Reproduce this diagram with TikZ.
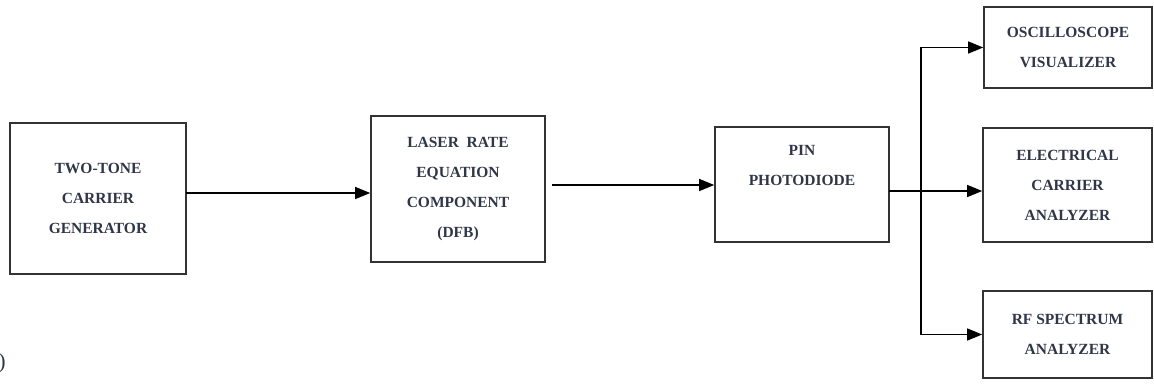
\documentclass[tikz,border=0pt]{standalone}
\usepackage{fontspec}
\setmainfont{Liberation Serif}
\usetikzlibrary{arrows.meta}
\definecolor{inkgrey}{RGB}{48,54,72}

\begin{document}
\begin{tikzpicture}[x=1pt,y=-1pt]
        \tikzstyle{block} = [draw=black!80,line width=1.6pt,align=center,inner sep=0pt,
          text=inkgrey,font=\bfseries\fontsize{15.5}{30}\selectfont]
        \tikzstyle{link} = [line width=1.3pt,-{Triangle[length=15pt,width=12pt]}]
        \useasboundingbox (0,0) rectangle (1154,385);

        \node[block,minimum width=176pt,minimum height=151pt] (gen) at (98,198.5)
          {TWO-TONE\\CARRIER\\GENERATOR};
        \node[block,minimum width=174pt,minimum height=146pt] (laser) at (458,189)
          {LASER\ \ RATE\\EQUATION\\COMPONENT\\(DFB)};
        \node[block,minimum width=174pt,minimum height=115pt] (pin) at (802,184.5)
          {PIN\\PHOTODIODE\\\strut};
        \node[block,minimum width=168pt,minimum height=81pt] (osc) at (1068,47.5)
          {OSCILLOSCOPE\\VISUALIZER};
        \node[block,minimum width=169pt,minimum height=114pt] (elec) at (1067.5,185)
          {ELECTRICAL\\CARRIER\\ANALYZER};
        \node[block,minimum width=169pt,minimum height=87pt] (rf) at (1067.5,334.5)
          {RF SPECTRUM\\ANALYZER};
        \node[anchor=east,inner sep=0pt,text=inkgrey,font=\fontsize{22}{26}\selectfont]
          (cap) at (6,363) {)};

        \coordinate (a1) at (186,193);
        \coordinate (a2) at (552,185);
        \coordinate (a3) at (889,191);
        \coordinate (br) at (921,191);

        \draw[link] (a1) -- (a1 -| laser.west);
        \draw[link] (a2) -- (a2 -| pin.west);
        \draw[link] (a3) -- (a3 -| elec.west);
        \foreach \b in {osc, rf} {
          \draw[link] (br) |- (\b.west);
        }
\end{tikzpicture}
\end{document}
